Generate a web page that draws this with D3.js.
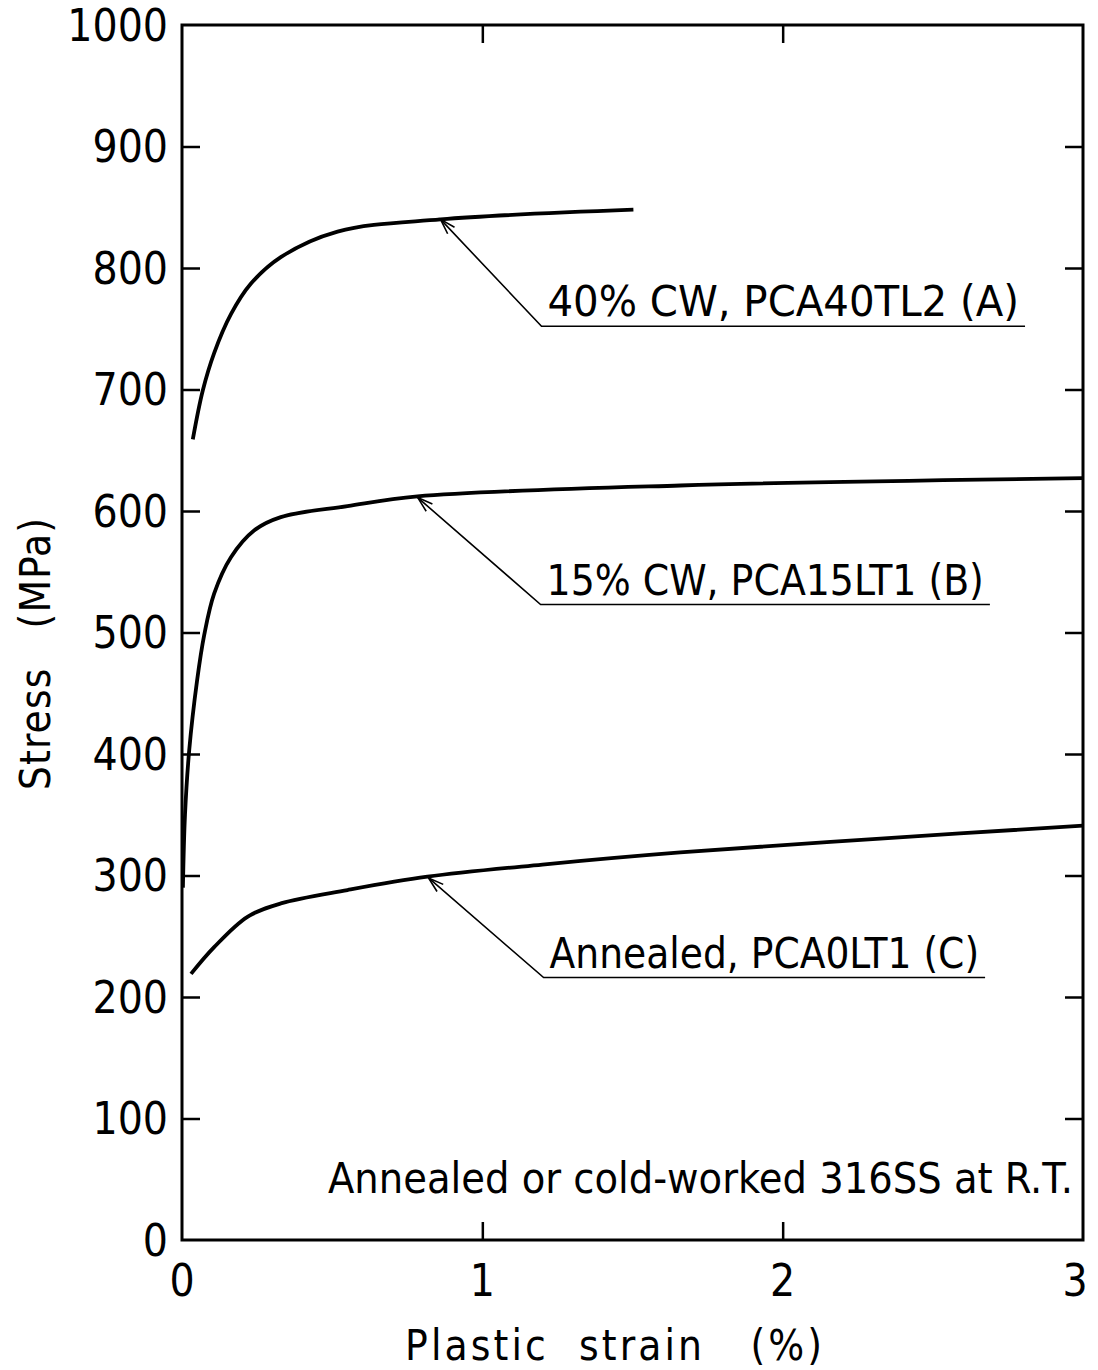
<!DOCTYPE html>
<html>
<head>
<meta charset="utf-8">
<script src="https://cdn.jsdelivr.net/npm/d3@7"></script>
<style>
  body { margin: 0; background: #fff; }
  text { font-family: "DejaVu Sans Condensed", "Liberation Sans", sans-serif; fill: #000; }
</style>
</head>
<body>
<div id="chart"></div>
<script>

// curve A: 40% CW
var strainA = [0.036, 0.069, 0.107, 0.163, 0.229, 0.329, 0.518, 0.861, 1.503];
var stressA = [659, 699, 730, 762, 787, 809, 830, 840, 848];
// curve B: 15% CW
var strainB = [0.003, 0.01, 0.024, 0.05, 0.074, 0.107, 0.163, 0.24, 0.329, 0.551, 0.784, 1.659, 3.0];
var stressB = [290, 350, 403, 460, 498, 532, 562, 584, 595, 604, 612, 621, 627];
// curve C: annealed
var strainC = [0.03, 0.107, 0.218, 0.329, 0.551, 0.817, 1.2, 1.659, 2.3, 3.0];
var stressC = [219, 241, 266, 277, 288, 299, 309, 319, 330, 341];

var labels = ["40% CW, PCA40TL2 (A)", "15% CW, PCA15LT1 (B)", "Annealed, PCA0LT1 (C)"];
// arrow tip (on curve), elbow and underline end, in data units
var tipStrain = [0.861, 0.785, 0.821];
var tipStress = [840, 611, 298];
var elbowStrain = [1.197, 1.194, 1.204];
var elbowStress = [752, 523, 216];
var lineEnd = [2.807, 2.69, 2.674];

var xTicks = [0, 1, 2, 3];
var yTicks = [0, 100, 200, 300, 400, 500, 600, 700, 800, 900, 1000];

var width = 1098, height = 1370;
var margin = { top: 25, left: 182, right: 15, bottom: 130 };

var svg = d3.select("#chart").append("svg")
	.attr("width", width)
	.attr("height", height);

var x = d3.scaleLinear().domain([0, 3]).range([margin.left, width - margin.right]);
var y = d3.scaleLinear().domain([0, 1000]).range([height - margin.bottom, margin.top]);

// frame
svg.append("rect")
	.attr("x", x(0)).attr("y", y(1000))
	.attr("width", x(3) - x(0)).attr("height", y(0) - y(1000))
	.attr("fill", "none").attr("stroke", "#000").attr("stroke-width", 3);

// inward ticks on all four sides
var tl = 18;
svg.append("g").call(d3.axisRight(y).tickValues(yTicks.slice(1, -1)).tickSize(tl).tickFormat(""))
	.attr("transform", "translate(" + x(0) + ",0)");
svg.append("g").call(d3.axisLeft(y).tickValues(yTicks.slice(1, -1)).tickSize(tl).tickFormat(""))
	.attr("transform", "translate(" + x(3) + ",0)");
svg.append("g").call(d3.axisTop(x).tickValues([1, 2]).tickSize(tl).tickFormat(""))
	.attr("transform", "translate(0," + y(0) + ")");
svg.append("g").call(d3.axisBottom(x).tickValues([1, 2]).tickSize(tl).tickFormat(""))
	.attr("transform", "translate(0," + y(1000) + ")");
svg.selectAll(".domain").remove();
svg.selectAll(".tick line").attr("stroke", "#000").attr("stroke-width", 2.5);

// tick labels
svg.append("g").selectAll("text")
	.data(yTicks).enter().append("text")
	.attr("x", x(0) - 14)
	.attr("y", function(d) { return y(d); })
	.attr("dy", "0.36em")
	.attr("text-anchor", "end")
	.attr("font-size", 44)
	.text(function(d) { return d; });

svg.append("g").selectAll("text")
	.data(xTicks).enter().append("text")
	.attr("x", function(d) { return d == 3 ? x(d) - 8 : x(d); })
	.attr("y", y(0) + 56)
	.attr("text-anchor", "middle")
	.attr("font-size", 44)
	.text(function(d) { return d; });

// axis titles
svg.append("text")
	.attr("x", 405).attr("y", 1360)
	.attr("font-size", 42)
	.attr("xml:space", "preserve")
	.attr("textLength", 417)
	.attr("lengthAdjust", "spacing")
	.text("Plastic  strain   (%)");

svg.append("text")
	.attr("transform", "translate(50,790) rotate(-90)")
	.attr("font-size", 42)
	.attr("xml:space", "preserve")
	.attr("textLength", 272)
	.attr("lengthAdjust", "spacing")
	.text("Stress   (MPa)");

// curves
var line = d3.line()
	.x(function(d) { return x(d[0]); })
	.y(function(d) { return y(d[1]); })
	.curve(d3.curveCatmullRom.alpha(0.5));

[[strainA, stressA], [strainB, stressB], [strainC, stressC]].forEach(function(s) {
	svg.append("path")
		.datum(d3.zip(s[0], s[1]))
		.attr("d", line)
		.attr("fill", "none")
		.attr("stroke", "#000")
		.attr("stroke-width", 3.8);
});

// annotations
labels.forEach(function(lab, i) {
	var tx = x(tipStrain[i]), ty = y(tipStress[i]);
	var ex = x(elbowStrain[i]), ey = y(elbowStress[i]);
	var endx = x(lineEnd[i]);
	var g = svg.append("g").attr("fill", "none").attr("stroke", "#000");
	g.append("polyline")
		.attr("points", [[tx, ty], [ex, ey], [endx, ey]].join(" "))
		.attr("stroke-width", 1.6);
	// open arrow head
	var ang = Math.atan2(ey - ty, ex - tx), len = 16, spread = 0.3;
	g.append("polyline")
		.attr("points", [
			[tx + len * Math.cos(ang - spread), ty + len * Math.sin(ang - spread)],
			[tx, ty],
			[tx + len * Math.cos(ang + spread), ty + len * Math.sin(ang + spread)]
		].join(" "))
		.attr("stroke-width", 1.6);
	svg.append("text")
		.attr("x", ex + 6)
		.attr("y", ey - 10)
		.attr("font-size", 42)
		.attr("textLength", endx - ex - 12)
		.attr("lengthAdjust", "spacingAndGlyphs")
		.text(lab);
});

svg.append("text")
	.attr("x", 328).attr("y", 1193)
	.attr("font-size", 42)
	.attr("textLength", 745)
	.attr("lengthAdjust", "spacingAndGlyphs")
	.text("Annealed or cold-worked 316SS at R.T.");

</script>
</body>
</html>
